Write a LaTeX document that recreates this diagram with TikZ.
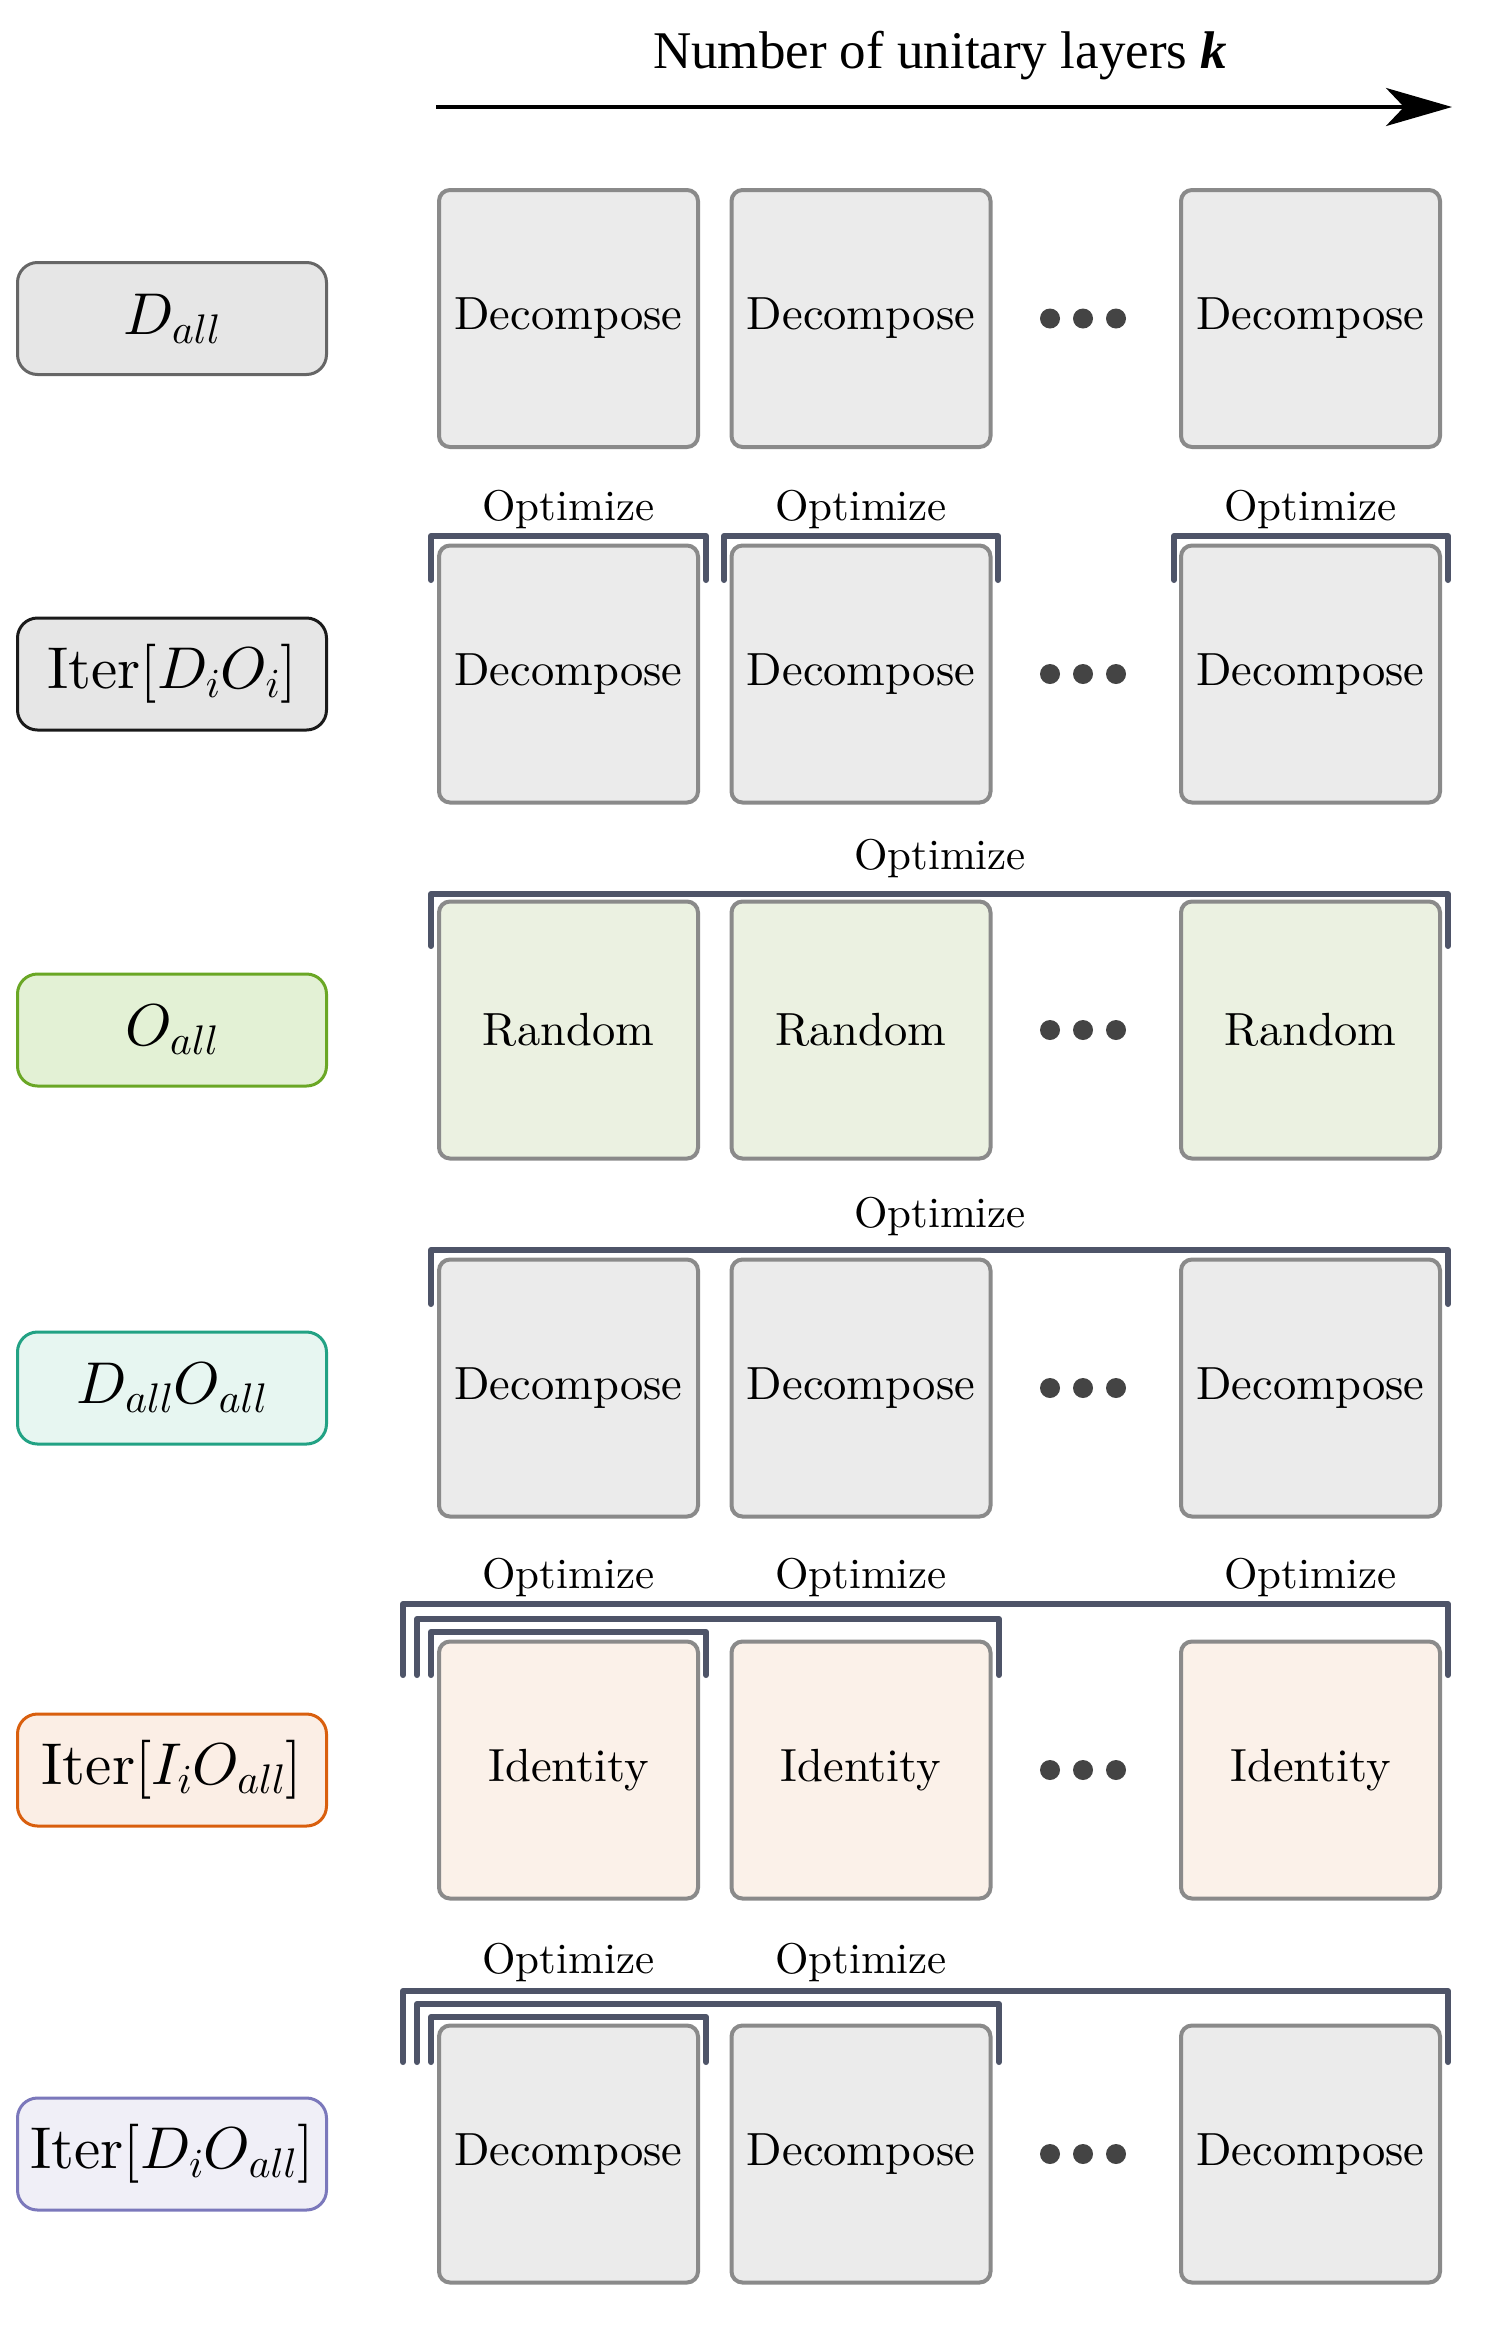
\documentclass[tikz,border=0pt]{standalone}
\usepackage{fontspec}
\setmainfont{lmroman10-regular.otf}[ItalicFont=lmroman10-italic.otf, BoldFont=lmroman10-bold.otf]
\newfontfamily\titlefont{Liberation Serif}
\DeclareFontShape{OML}{cmm}{m}{it}{<->cmmi10}{}
\DeclareFontShape{OT1}{cmr}{m}{n}{<->cmr10}{}
\DeclareFontShape{OMS}{cmsy}{m}{n}{<->cmsy10}{}
\DeclareFontShape{OMX}{cmex}{m}{n}{<->cmex10}{}
\usetikzlibrary{arrows.meta}
\definecolor{boxfill}{HTML}{EBEBEB}
\definecolor{randfill}{HTML}{EBF1E1}
\definecolor{idfill}{HTML}{FBF1E9}
\definecolor{boxborder}{HTML}{8A8A8A}
\definecolor{brkcol}{HTML}{4E5468}
\definecolor{dotcol}{HTML}{444444}
\definecolor{laA}{HTML}{666666}\definecolor{lfA}{HTML}{E6E6E6}
\definecolor{laB}{HTML}{1A1A1A}\definecolor{lfB}{HTML}{E6E6E6}
\definecolor{laC}{HTML}{6AA725}\definecolor{lfC}{HTML}{E3F1D5}
\definecolor{laD}{HTML}{22A284}\definecolor{lfD}{HTML}{E7F6F1}
\definecolor{laE}{HTML}{D95F0E}\definecolor{lfE}{HTML}{FBEEE5}
\definecolor{laF}{HTML}{7B78BB}\definecolor{lfF}{HTML}{F0EFF7}
\begin{document}
\begin{tikzpicture}[x=1pt,y=-1pt,
  lbl/.style={draw, line width=3pt, rounded corners=20pt, minimum width=309pt, minimum height=112pt, font=\fontsize{59}{70}\selectfont, inner sep=0pt},
  blk/.style={draw=boxborder, line width=4pt, rounded corners=11pt, minimum width=259pt, minimum height=257pt, font=\fontsize{46.5}{56}\selectfont, inner sep=0pt},
  opt/.style={font=\fontsize{43}{50}\selectfont, inner sep=0pt},
  brk/.style={draw=brkcol, line width=6pt, line cap=round, line join=round},
  dotn/.style={circle, fill=dotcol, minimum size=20pt, inner sep=0pt}]
\useasboundingbox (0,0) rectangle (1489,2340);

% axis
\node[anchor=base, font=\titlefont\fontsize{53}{60}\selectfont, inner sep=0pt] (title) at (940,68) {Number of unitary layers \textbf{\textit{k}}};
\coordinate (ax0) at (436,107);
\coordinate (ax1) at (1452,107);
\draw[line width=4pt, -{Stealth[length=66pt,width=38pt,inset=18pt]}] (ax0) -- (ax1);

% labels
\node[lbl, draw=laA, fill=lfA] (L1) at (172,318.5) {$D_{all}$};
\node[lbl, draw=laB, fill=lfB] (L2) at (172,674) {Iter$[D_iO_i]$};
\node[lbl, draw=laC, fill=lfC] (L3) at (172,1030) {$O_{all}$};
\node[lbl, draw=laD, fill=lfD] (L4) at (172,1388) {$D_{all}O_{all}$};
\node[lbl, draw=laE, fill=lfE] (L5) at (172,1770) {Iter$[I_iO_{all}]$};
\node[lbl, draw=laF, fill=lfF] (L6) at (172,2154) {Iter$[D_iO_{all}]$};

% boxes and dots
\foreach \r/\y/\t/\f in {1/318.5/Decompose/boxfill, 2/674/Decompose/boxfill, 3/1030/Random/randfill, 4/1388/Decompose/boxfill, 5/1770/Identity/idfill, 6/2154/Decompose/boxfill}{
  \node[blk, fill=\f] (b\r a) at (568.5,\y) {\t};
  \node[blk, fill=\f] (b\r b) at (861,\y) {\t};
  \node[blk, fill=\f] (b\r c) at (1310.5,\y) {\t};
  \node[dotn] (d\r a) at (1050,\y) {};
  \node[dotn] (d\r b) at (1083,\y) {};
  \node[dotn] (d\r c) at (1116,\y) {};
}

% row 2 brackets
\draw[brk] (431,580) -- (431,536) -- (706,536) -- (706,580);
\draw[brk] (724,580) -- (724,536) -- (998,536) -- (998,580);
\draw[brk] (1174,580) -- (1174,536) -- (1448,536) -- (1448,580);
\node[opt] (o2a) at (568.5,510) {Optimize};
\node[opt] (o2b) at (861,510) {Optimize};
\node[opt] (o2c) at (1310.5,510) {Optimize};

% row 3
\draw[brk] (431,946) -- (431,894) -- (1448,894) -- (1448,946);
\node[opt] (o3) at (940,859) {Optimize};

% row 4
\draw[brk] (431,1304) -- (431,1250) -- (1448,1250) -- (1448,1304);
\node[opt] (o4) at (940,1216) {Optimize};

% row 5
\draw[brk] (403,1675) -- (403,1604) -- (1448,1604) -- (1448,1675);
\draw[brk] (417,1675) -- (417,1619) -- (999,1619) -- (999,1675);
\draw[brk] (431,1675) -- (431,1632) -- (706,1632) -- (706,1675);
\node[opt] (o5a) at (568.5,1577) {Optimize};
\node[opt] (o5b) at (861,1577) {Optimize};
\node[opt] (o5c) at (1310.5,1577) {Optimize};

% row 6
\draw[brk] (403,2062) -- (403,1991) -- (1448,1991) -- (1448,2062);
\draw[brk] (417,2062) -- (417,2004) -- (999,2004) -- (999,2062);
\draw[brk] (431,2062) -- (431,2017) -- (706,2017) -- (706,2062);
\node[opt] (o6a) at (568.5,1962) {Optimize};
\node[opt] (o6b) at (861,1962) {Optimize};
\end{tikzpicture}
\end{document}
